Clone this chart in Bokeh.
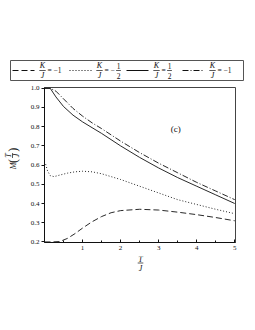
from math import pi
from bokeh.plotting import figure
from bokeh.layouts import column, row
from bokeh.models import Range1d, FixedTicker, PrintfTickFormatter, Label
from bokeh.core.properties import value
from bokeh.embed import file_html
from bokeh.resources import INLINE

# ---------------- data ----------------
t_m1 = [0, 0.2, 0.4, 0.6, 0.8, 1.0, 1.25, 1.5, 1.75, 2.0, 2.5, 3.0, 3.5, 4.0, 4.5, 5.0]
m_m1 = [0.2, 0.2, 0.202, 0.218, 0.243, 0.272, 0.305, 0.332, 0.352, 0.363, 0.37, 0.366, 0.355, 0.342, 0.327, 0.31]

t_mh = [0.03, 0.08, 0.15, 0.25, 0.4, 0.6, 0.8, 1.0, 1.25, 1.5, 2.0, 2.5, 3.0, 3.5, 4.0, 4.5, 5.0]
m_mh = [0.605, 0.57, 0.545, 0.54, 0.548, 0.558, 0.565, 0.568, 0.565, 0.555, 0.525, 0.49, 0.455, 0.42, 0.395, 0.37, 0.347]

t_ph = [0, 0.15, 0.3, 0.5, 0.75, 1.0, 1.25, 1.5, 2.0, 2.5, 3.0, 3.5, 4.0, 4.5, 5.0]
m_ph = [1.0, 1.0, 0.955, 0.905, 0.86, 0.825, 0.795, 0.765, 0.70, 0.64, 0.585, 0.535, 0.49, 0.445, 0.40]

t_p1 = [0, 0.15, 0.3, 0.5, 0.75, 1.0, 1.25, 1.5, 2.0, 2.5, 3.0, 3.5, 4.0, 4.5, 5.0]
m_p1 = [1.0, 1.0, 0.985, 0.945, 0.895, 0.855, 0.82, 0.79, 0.725, 0.665, 0.61, 0.56, 0.51, 0.465, 0.42]

x_ticks = [1, 2, 3, 4, 5]
x_minor = [0.5, 1.5, 2.5, 3.5, 4.5]
y_ticks = [0.2, 0.3, 0.4, 0.5, 0.6, 0.7, 0.8, 0.9, 1.0]

legend_values = ["−1", "−1/2", "1/2", "−1"]
legend_dashes = ["6 3", "1 2", "solid", "6 2 1 2"]
panel_label = "(c)"

FONT = "Liberation Serif"
INK = "#111111"


def txt(fig, x, y, s, size="8px", style="normal", align="center", angle=0.0):
    fig.text([x], [y], text=[s], text_font=value(FONT), text_font_size=size,
             text_font_style=style, text_align=align, text_baseline="middle",
             text_color=INK, angle=angle)


def bare(fig):
    fig.grid.visible = False
    fig.outline_line_color = None
    fig.background_fill_color = None
    fig.border_fill_color = None
    return fig


# ---------------- legend strip (page coordinates) ----------------
leg = figure(width=250, height=84, x_range=Range1d(10, 243), y_range=Range1d(80, 60),
             output_backend="svg", toolbar_location=None,
             x_axis_location=None, y_axis_location=None,
             min_border_left=10, min_border_right=7, min_border_top=60, min_border_bottom=4)
leg.grid.visible = False
leg.outline_line_color = "#555555"
leg.outline_line_width = 1

starts = [12, 69, 126, 182]
for x0, val, dash in zip(starts, legend_values, legend_dashes):
    leg.line([x0, x0 + 22], [70, 70], line_color=INK, line_width=1, line_dash=dash)
    fx = x0 + 30
    txt(leg, fx, 65, "K", style="italic")
    txt(leg, fx, 75.2, "J", style="italic")
    leg.line([fx - 3.2, fx + 3.2], [70, 70], line_color=INK, line_width=0.7)
    if "/" in val:
        sign = "−" if val.startswith("−") else ""
        num, den = val.lstrip("−").split("/")
        txt(leg, fx + 5, 70.3, "= " + sign, size="7.5px", align="left")
        hx = fx + (19 if sign else 13)
        txt(leg, hx, 65, num, size="7.5px")
        txt(leg, hx, 75.2, den, size="7.5px")
        leg.line([hx - 2.4, hx + 2.4], [70, 70], line_color=INK, line_width=0.7)
    else:
        txt(leg, fx + 5, 70.3, "= " + val, size="7.5px", align="left")

# ---------------- y-axis label strip (page coordinates) ----------------
ylab = bare(figure(width=22, height=172, x_range=Range1d(0, 22), y_range=Range1d(256, 84),
                   output_backend="svg", toolbar_location=None,
                   x_axis_location=None, y_axis_location=None,
                   min_border_left=0, min_border_right=0, min_border_top=0, min_border_bottom=0))
txt(ylab, 12.5, 171, "M", style="italic", angle=pi / 2)
txt(ylab, 12.3, 165.5, "(", size="12px", angle=pi / 2)
txt(ylab, 8.3, 159.5, "T", style="italic", angle=pi / 2)
ylab.line([12, 12], [156.8, 162.2], line_color=INK, line_width=0.7)
txt(ylab, 16, 159.5, "J", style="italic", angle=pi / 2)
txt(ylab, 12.3, 153, ")", size="12px", angle=pi / 2)

# ---------------- main plot ----------------
XR = (0, 5.02)
YR = (0.197, 1.004)
p = figure(width=228, height=172, x_range=Range1d(*XR), y_range=Range1d(*YR),
           output_backend="svg", toolbar_location=None,
           min_border_left=22, min_border_right=15, min_border_top=3, min_border_bottom=14)
p.grid.visible = False
p.outline_line_color = "#444444"
p.outline_line_width = 1

p.xaxis.ticker = FixedTicker(ticks=x_ticks, minor_ticks=x_minor)
p.yaxis.ticker = FixedTicker(ticks=y_ticks, minor_ticks=[])
p.yaxis.formatter = PrintfTickFormatter(format="%.1f")
for ax in (p.xaxis, p.yaxis):
    ax.axis_line_color = INK
    ax.major_tick_line_color = INK
    ax.minor_tick_line_color = INK
    ax.major_label_text_font = FONT
    ax.major_label_text_font_size = "7px"
    ax.major_label_text_color = INK
p.xaxis.major_tick_in = 3
p.xaxis.major_tick_out = 0
p.xaxis.minor_tick_in = 2
p.xaxis.minor_tick_out = 0
p.xaxis.major_label_standoff = 3
p.yaxis.major_tick_in = 0
p.yaxis.major_tick_out = 3
p.yaxis.minor_tick_line_color = None
p.yaxis.major_label_standoff = 2

p.line(t_m1, m_m1, line_color=INK, line_width=0.9, line_dash=legend_dashes[0])
p.line(t_mh, m_mh, line_color=INK, line_width=0.9, line_dash=legend_dashes[1])
p.line(t_ph, m_ph, line_color=INK, line_width=0.9)
p.line(t_p1, m_p1, line_color=INK, line_width=0.9, line_dash=legend_dashes[3])

p.add_layout(Label(x=3.45, y=0.79, text=panel_label, text_font=FONT, text_font_size="9px",
                   text_align="center", text_baseline="middle", text_color=INK))

# ---------------- x-axis label strip (page coordinates) ----------------
xlab = bare(figure(width=250, height=34, x_range=Range1d(0, 250), y_range=Range1d(290, 256),
                   output_backend="svg", toolbar_location=None,
                   x_axis_location=None, y_axis_location=None,
                   min_border_left=0, min_border_right=0, min_border_top=0, min_border_bottom=0))
txt(xlab, 139.5, 258.5, "T", style="italic")
xlab.line([136.5, 142.5], [262.5, 262.5], line_color=INK, line_width=0.7)
txt(xlab, 139.5, 267.5, "J", style="italic")

layout = column(leg, row(ylab, p), xlab)
open("out.html", "w").write(file_html(layout, INLINE))
